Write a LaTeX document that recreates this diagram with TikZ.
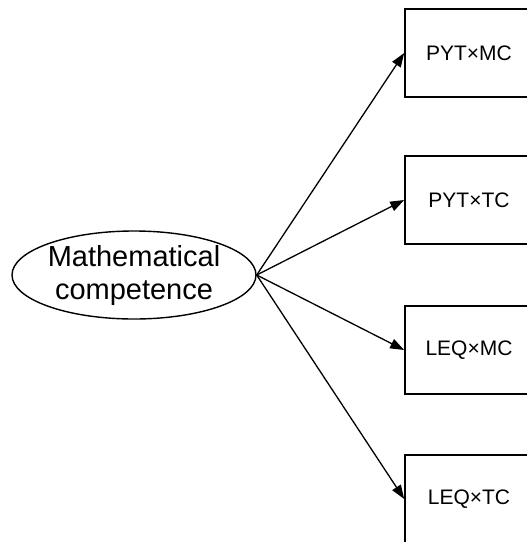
\documentclass[tikz,border=0pt]{standalone}
\usepackage{fontspec}
\setmainfont{Liberation Sans}
\usetikzlibrary{arrows.meta,shapes.geometric}

\begin{document}
\begin{tikzpicture}[x=1pt,y=-1pt,>={Triangle[length=14pt,width=10pt]},
  factor/.style={draw,ellipse,line width=1.4pt,inner sep=0pt,minimum width=244pt,minimum height=88pt,align=center,font=\fontsize{29}{33}\selectfont},
  cell/.style={draw,rectangle,line width=1.6pt,minimum width=128pt,minimum height=88pt,font=\fontsize{21}{25}\selectfont},
  load/.style={->,line width=1.3pt}]
\useasboundingbox (0,0) rectangle (527,542);
\node[factor] (mc) at (134,275) {Mathematical\\competence};
\node[cell] (pytmc) at (469,53) {PYT×MC};
\node[cell] (pyttc) at (469,200) {PYT×TC};
\node[cell] (leqmc) at (469,350) {LEQ×MC};
\node[cell] (leqtc) at (469,499) {LEQ×TC};
\draw[load] (mc.east)--(pytmc.west);
\draw[load] (mc.east)--(pyttc.west);
\draw[load] (mc.east)--(leqmc.west);
\draw[load] (mc.east)--(leqtc.west);
\end{tikzpicture}
\end{document}
